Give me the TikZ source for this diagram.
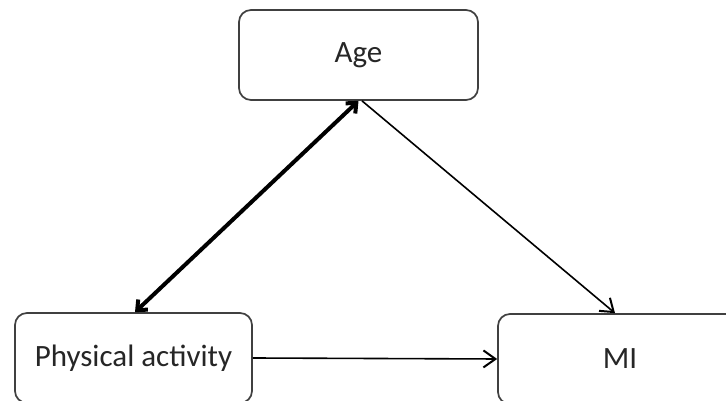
\documentclass[tikz,border=0pt]{standalone}
\usepackage{fontspec}
\setmainfont{Carlito}
\usetikzlibrary{arrows.meta}
\tikzset{
  varbox/.style={draw=black!75, line width=1.7pt, rounded corners=12pt, fill=white,
    minimum height=90pt, text=black!85, font=\fontsize{31}{37}\selectfont},
  thinarr/.style={line width=1.6pt, -{Straight Barb[length=12pt,width=17pt,line width=2pt]}},
  thickarr/.style={line width=4pt, {Straight Barb[length=8pt,width=14pt]}-{Straight Barb[length=8pt,width=14pt]}}
}
\begin{document}
\begin{tikzpicture}[x=1pt,y=1pt]
\useasboundingbox (0,0) rectangle (726,401);
\node[varbox, minimum width=239pt] (age) at (358.5,346){Age};
\node[varbox, minimum width=237pt] (pa) at (133.5,43){Physical activity};
\node[varbox, minimum width=244pt] (mi) at (620,42){MI};
\draw[thickarr] (age.south) -- ([xshift=1.5pt]pa.north);
\draw[thinarr] ([xshift=3.5pt]age.south) -- ([xshift=-5pt]mi.north);
\draw[thinarr] (pa.east) -- (mi.west);
\end{tikzpicture}
\end{document}
